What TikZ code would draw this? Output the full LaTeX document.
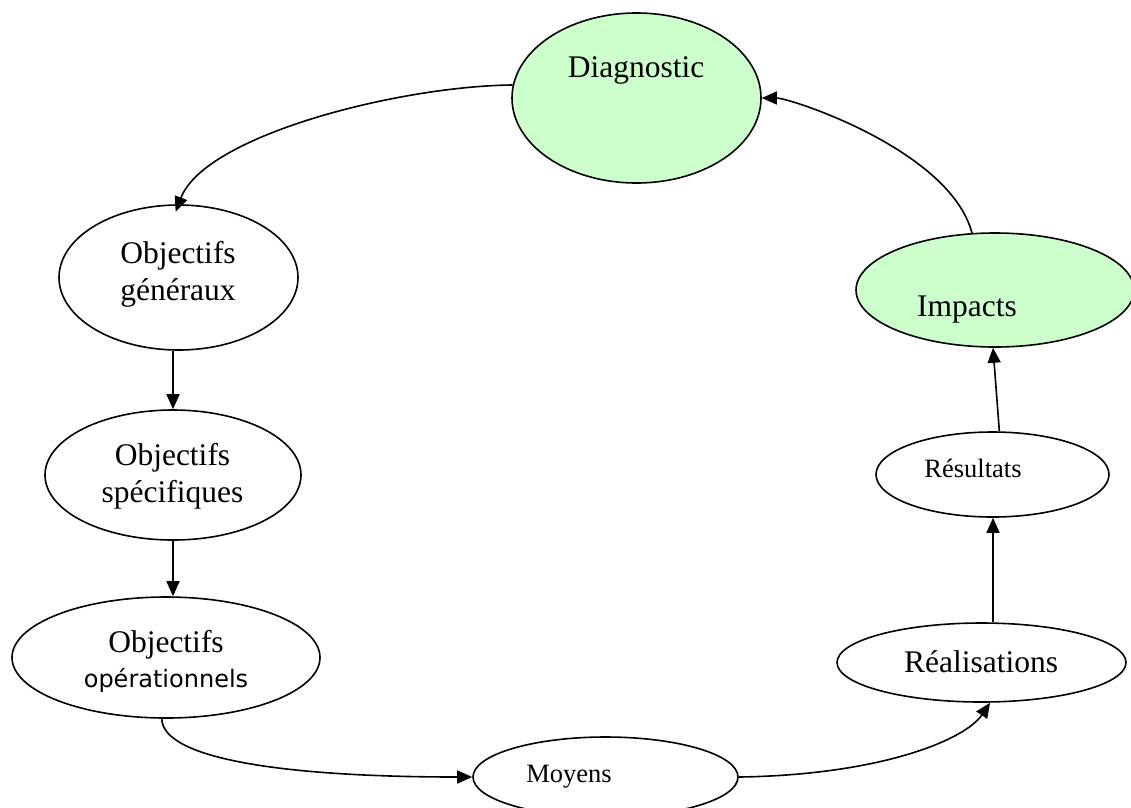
\documentclass[tikz,border=0pt]{standalone}
\usepackage{fontspec}
\setmainfont{Liberation Serif}
\newfontfamily\casualfont{DejaVu Sans}
\usetikzlibrary{arrows.meta,shapes.geometric}

\definecolor{palegreen}{HTML}{CCFFCC}

\begin{document}
\begin{tikzpicture}[x=1pt,y=-1pt,
  bubble/.style={draw,ellipse,line width=1.6pt,inner sep=0pt,fill=white},
  greenbubble/.style={bubble,fill=palegreen},
  bigtext/.style={anchor=base,inner sep=0pt,font=\fontsize{31.5}{37}\selectfont},
  smalltext/.style={anchor=base,inner sep=0pt,font=\fontsize{26.5}{31}\selectfont},
  casualtext/.style={anchor=base,inner sep=0pt,font=\casualfont\fontsize{24}{29}\selectfont},
  conn/.style={line width=1.6pt,-{Triangle[length=15pt,width=13pt]}}]

\useasboundingbox (0,0) rectangle (1131,807);
\clip (0,0) rectangle (1131,807);

% ellipses of the cycle
\node[greenbubble,minimum width=249pt,minimum height=170pt] (diag) at (636.5,98) {};
\node[bubble,minimum width=239pt,minimum height=145pt] (gen) at (178.5,277.5) {};
\node[bubble,minimum width=256pt,minimum height=130pt] (spec) at (173,475) {};
\node[bubble,minimum width=308pt,minimum height=121pt] (oper) at (166,657.5) {};
\node[bubble,minimum width=265pt,minimum height=80pt] (moy) at (605.5,777) {};
\node[bubble,minimum width=289pt,minimum height=79pt] (real) at (981.5,662.5) {};
\node[bubble,minimum width=233pt,minimum height=85pt] (res) at (992.5,474.5) {};
\node[greenbubble,minimum width=278pt,minimum height=114pt] (imp) at (995,290) {};

% labels
\node[bigtext] (tdiag) at (636,77) {Diagnostic};
\node[bigtext] (tgen1) at (178,263) {Objectifs};
\node[bigtext] (tgen2) at (178,300) {généraux};
\node[bigtext] (tspec1) at (172.5,465) {Objectifs};
\node[bigtext] (tspec2) at (172.5,502) {spécifiques};
\node[bigtext] (toper1) at (166,652) {Objectifs};
\node[casualtext] (toper2) at (166,687) {opérationnels};
\node[smalltext] (tmoy) at (569,782) {Moyens};
\node[bigtext] (treal) at (981,672) {Réalisations};
\node[smalltext] (tres) at (973,477) {Résultats};
\node[bigtext] (timp) at (967,316) {Impacts};

% connectors
\draw[conn,shorten >=-8pt] (diag.174) .. controls (400,86) and (205,135) .. (gen.north);
\draw[conn] (spec.north |- gen.south) -- (spec.north);
\draw[conn] (spec.south) -- (spec.south |- oper.north);
\draw[conn] (oper.266) .. controls (163,760) and (290,777) .. (moy.west);
\draw[conn] (moy.east) .. controls (880,775) and (965,740) .. (real.282);
\draw[conn] (real.74) -- (real.74 |- res.south);
\draw[conn] (res.81) -- (imp.268);
\draw[conn] (imp.112) .. controls (950,150) and (790,98) .. (diag.east);

\end{tikzpicture}
\end{document}
